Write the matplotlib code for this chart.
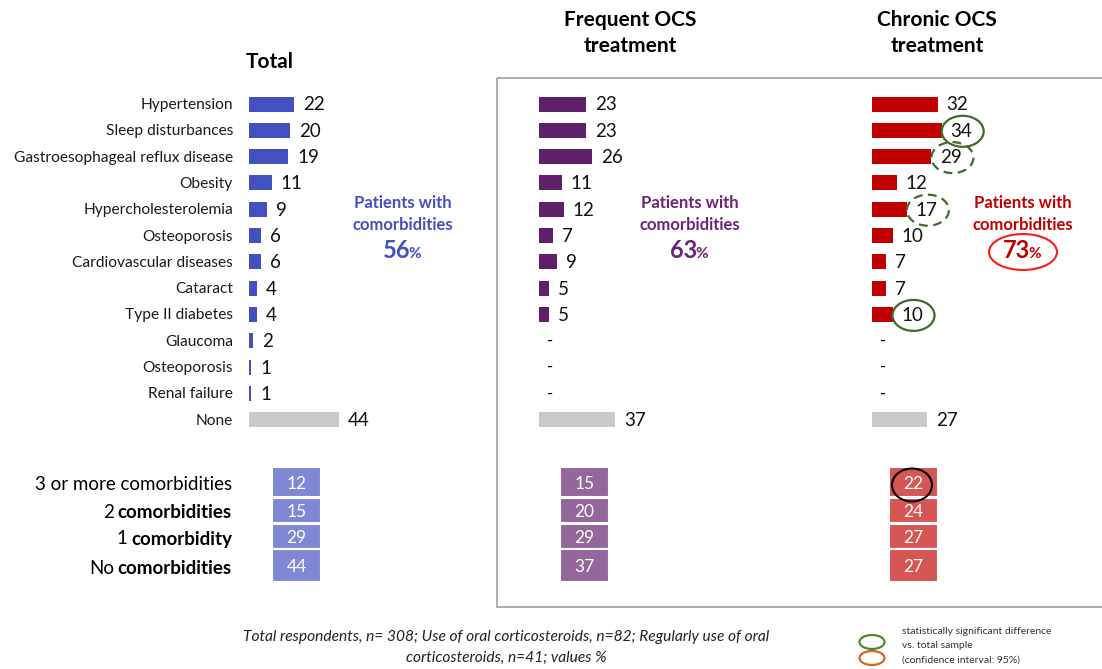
import matplotlib.pyplot as plt
from matplotlib.patches import Ellipse, Rectangle

plt.rcParams['font.family'] = ['Lato', 'DejaVu Sans']

# data
categories = ['Hypertension', 'Sleep disturbances', 'Gastroesophageal reflux disease',
              'Obesity', 'Hypercholesterolemia', 'Osteoporosis', 'Cardiovascular diseases',
              'Cataract', 'Type II diabetes', 'Glaucoma', 'Osteoporosis', 'Renal failure', 'None']
total = [22, 20, 19, 11, 9, 6, 6, 4, 4, 2, 1, 1, 44]
frequent = [23, 23, 26, 11, 12, 7, 9, 5, 5, None, None, None, 37]
chronic = [32, 34, 29, 12, 17, 10, 7, 7, 10, None, None, None, 27]

headers = ['Total', 'Frequent OCS\ntreatment', 'Chronic OCS\ntreatment']
with_comorb = [56, 63, 73]

stack_nums = ['3 or more', '2', '1', 'No']
stack_words = ['comorbidities', 'comorbidities', 'comorbidity', 'comorbidities']
stack_total = [12, 15, 29, 44]
stack_frequent = [15, 20, 29, 37]
stack_chronic = [22, 24, 27, 27]

# significance marks on chronic column (row index)
sig_solid = [1, 8]
sig_dashed = [2, 4]

W, H = 1102, 669
fig = plt.figure(figsize=(W / 100, H / 100), dpi=100)
ax = fig.add_axes([0, 0, 1, 1])
ax.set_xlim(0, W)
ax.set_ylim(H, 0)
ax.axis('off')

bar_cols = ['#4351c0', '#5e1f6b', '#c00000']
stack_cols = ['#8088d6', '#93679c', '#d65555']
none_col = '#c9c9c9'
x0s = [249, 539, 872]
scale = 2.05
row_y = [104 + i * 26.3 for i in range(len(categories))]
series = [total, frequent, chronic]

# frame around the OCS columns
ax.add_patch(Rectangle((497, 78), 620, 529, fill=False, ec='#a6a6a6', lw=1.3))

# category labels
for y, c in zip(row_y, categories):
    ax.text(233, y + 1, c, ha='right', va='center', fontsize=11.2, color='#1a1a1a')

label_pos = {}
for k, (vals, x0, col) in enumerate(zip(series, x0s, bar_cols)):
    for i, (y, v) in enumerate(zip(row_y, vals)):
        if v is None:
            ax.text(x0 + 11, y, '-', ha='center', va='center', fontsize=12)
            continue
        c = none_col if i == len(categories) - 1 else col
        ax.barh(y, v * scale, left=x0, height=15, color=c)
        lx = x0 + v * scale + 9
        ax.text(lx, y + 1, str(v), ha='left', va='center', fontsize=13.5, color='#111111')
        label_pos[(k, i)] = (lx, y)

# headers
ax.text(270, 62, headers[0], ha='center', va='center', fontsize=15, fontweight='bold')
ax.text(630, 33, headers[1], ha='center', va='center', fontsize=15, fontweight='bold',
        linespacing=1.35)
ax.text(937, 33, headers[2], ha='center', va='center', fontsize=15, fontweight='bold',
        linespacing=1.35)

# patients with comorbidities
pcols = ['#4351c0', '#6a2478', '#c00000']
for cx, pct, col in zip([403, 690, 1023], with_comorb, pcols):
    ax.text(cx, 203, 'Patients with', ha='center', va='center', fontsize=12,
            fontweight='bold', color=col)
    ax.text(cx, 225, 'comorbidities', ha='center', va='center', fontsize=12,
            fontweight='bold', color=col)
    ax.text(cx + 7, 251, str(pct), ha='right', va='center', fontsize=17,
            fontweight='bold', color=col)
    ax.text(cx + 5, 254, '%', ha='left', va='center', fontsize=11,
            fontweight='bold', color=col)
ax.add_patch(Ellipse((1023, 252), 68, 36, fill=False, ec='#ff1a1a', lw=1.5))

# significance circles on chronic values
for i in sig_solid + sig_dashed:
    lx, y = label_pos[(2, i)]
    ax.add_patch(Ellipse((lx + 12, y + 1), 42, 31, fill=False, ec='#3e6b2a', lw=1.6,
                         ls='-' if i in sig_solid else (0, (4, 2.5))))

# stacked comorbidity counts
stack_y = [482, 510, 536, 565]
stack_h = [30, 25, 25, 33]
stack_x = [272, 560, 889]
for vals, sx, col in zip([stack_total, stack_frequent, stack_chronic], stack_x, stack_cols):
    for y, h, v in zip(stack_y, stack_h, vals):
        ax.add_patch(Rectangle((sx, y - h / 2), 49, h, fc=col, ec='white', lw=1.5))
        ax.text(sx + 24.5, y + 2, str(v), ha='center', va='center', fontsize=12.5,
                color='white')
ax.add_patch(Ellipse((912, 485), 40, 33, fill=False, ec='black', lw=1.5))

fig.canvas.draw()
r = fig.canvas.get_renderer()
for y, num, word in zip(stack_y, stack_nums, stack_words):
    if num.startswith('3'):
        ax.text(232, y + 3, num + ' ' + word, ha='right', va='center', fontsize=13.5)
        continue
    t = ax.text(232, y + 3, word, ha='right', va='center', fontsize=13.5, fontweight='bold')
    bb = t.get_window_extent(r)
    ax.text(232 - bb.width - 4, y + 3, num, ha='right', va='center', fontsize=13.5)

# footnote
ax.text(506, 637, 'Total respondents, n= 308; Use of oral corticosteroids, n=82; Regularly use of oral',
        ha='center', va='center', fontsize=11.2, style='italic', color='#222222')
ax.text(506, 658, 'corticosteroids, n=41; values %', ha='center', va='center',
        fontsize=11.2, style='italic', color='#222222')

# legend
ax.add_patch(Ellipse((872, 642), 25, 14, fill=False, ec='#4f8a2e', lw=1.6))
ax.add_patch(Ellipse((872, 658), 25, 14, fill=False, ec='#d2691e', lw=1.6))
for yy, s in zip([632, 646, 660], ['statistically significant difference', 'vs. total sample',
                                   '(confidence interval: 95%)']):
    ax.text(902, yy, s, ha='left', va='center', fontsize=7.5, color='#333333')

fig.savefig('out.png', dpi=100)
